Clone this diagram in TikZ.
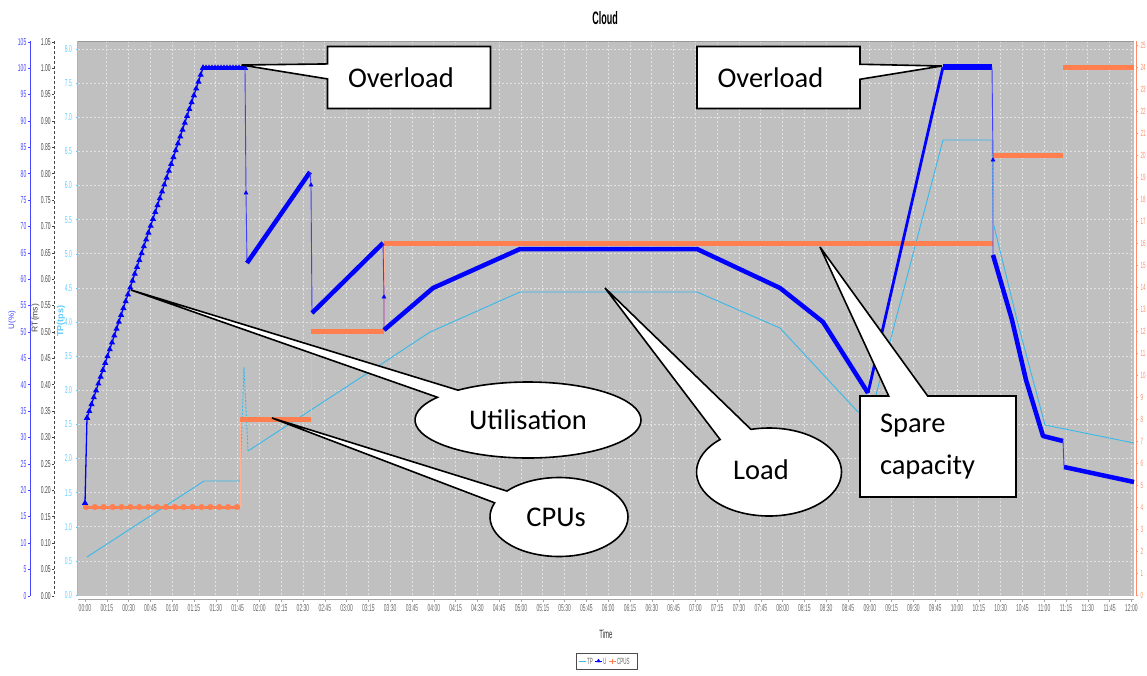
\documentclass[tikz,border=0pt]{standalone}
\usepackage{fontspec}
\setmainfont{Carlito}
\newfontfamily\tickf[FakeStretch=0.5]{Liberation Sans}
\newfontfamily\titlef[FakeStretch=0.5]{Liberation Sans}
\newfontfamily\axf{Liberation Sans}
\usetikzlibrary{shapes.callouts,shapes.geometric,plotmarks}
\definecolor{plotbg}{RGB}{192,192,192}
\definecolor{gridc}{RGB}{226,226,226}
\definecolor{ublue}{RGB}{0,0,255}
\definecolor{uaxis}{RGB}{70,70,255}
\definecolor{tpc}{RGB}{55,185,235}
\definecolor{tpaxis}{RGB}{95,205,255}
\definecolor{cpuc}{RGB}{255,127,80}
\definecolor{cpuaxis}{RGB}{255,140,105}
\definecolor{rtc}{RGB}{70,70,70}
\definecolor{timec}{RGB}{100,100,100}
\tikzset{
  gridline/.style={gridc, line width=0.7pt, dash pattern=on 2pt off 2pt},
  uthick/.style={ublue, line width=4.5pt, line join=round},
  uthin/.style={ublue!75, line width=0.9pt},
  umarks/.style={ublue, line width=1.3pt, mark=triangle*, mark size=2.3pt, mark options={ublue, solid}},
  tpline/.style={tpc, line width=0.9pt, line join=round},
  tpdash/.style={tpc, line width=0.9pt, dash pattern=on 2pt off 1.5pt},
  cputhick/.style={cpuc, line width=5pt},
  cputhin/.style={cpuc!60, line width=0.9pt},
  ulab/.style={font=\tickf\fontsize{10}{10}\selectfont, text=uaxis, anchor=east, inner sep=0pt},
  rtlab/.style={font=\tickf\fontsize{10}{10}\selectfont, text=rtc, anchor=east, inner sep=0pt},
  tplab/.style={font=\tickf\fontsize{10}{10}\selectfont, text=tpaxis, anchor=east, inner sep=0pt},
  cpulab/.style={font=\tickf\fontsize{9}{9}\selectfont, text=cpuaxis, anchor=west, inner sep=0pt},
  timelab/.style={font=\tickf\fontsize{10}{10}\selectfont, text=timec, inner sep=0pt},
  callrect/.style={rectangle callout, draw=black, fill=white, line width=1.6pt, inner ysep=0pt,
    font=\fontsize{28.5}{42}\selectfont, align=left},
  callell/.style={ellipse callout, draw=black, fill=white, line width=1.6pt, inner sep=0pt,
    font=\fontsize{28.5}{34}\selectfont},
}
\begin{document}
\begin{tikzpicture}[x=1pt,y=-1pt]
\useasboundingbox (0,0) rectangle (1147,675);
\fill[white] (0,0) rectangle (1147,675);
% title
\node[font=\titlef\bfseries\fontsize{18}{18}\selectfont] (title) at (605,18) {Cloud};
% plot area
\fill[plotbg] (78,41) rectangle (1134,596);
\foreach \i in {1,...,48} {\draw[gridline] ({85+21.8*\i},41) -- ({85+21.8*\i},596);}
\foreach \i in {1,...,16} {\draw[gridline] (78,{595-34.125*\i}) -- (1134,{595-34.125*\i});}
\draw[gray!80, line width=0.6pt] (78,41) -- (1134,41);
% left axes
\draw[uaxis, line width=0.8pt] (30,41) -- (30,596);
\draw[rtc, line width=0.7pt, dash pattern=on 3pt off 2pt] (54.3,41) -- (54.3,596);
\draw[tpaxis, line width=0.9pt] (77.5,41) -- (77.5,596);
\foreach \i in {0,...,21} {
  \pgfmathsetmacro\yy{595.7-26.38*\i}
  \pgfmathtruncatemacro\lab{5*\i}
  \node[ulab] (u\i) at (26.5,\yy) {\lab};
  \draw[uaxis] (28,\yy) -- (30,\yy);
}
\foreach \lab [count=\i from 0] in {0.00,0.05,0.10,0.15,0.20,0.25,0.30,0.35,0.40,0.45,0.50,0.55,0.60,0.65,0.70,0.75,0.80,0.85,0.90,0.95,1.00,1.05} {
  \pgfmathsetmacro\yy{595.7-26.38*\i}
  \node[rtlab] (rt\i) at (50.8,\yy) {\lab};
  \draw[rtc] (52.3,\yy) -- (54.3,\yy);
}
\foreach \lab [count=\i from 0] in {0.0,0.5,1.0,1.5,2.0,2.5,3.0,3.5,4.0,4.5,5.0,5.5,6.0,6.5,7.0,7.5,8.0} {
  \pgfmathsetmacro\yy{595-34.125*\i}
  \node[tplab] (tp\i) at (72,\yy) {\lab};
  \draw[tpaxis] (75.5,\yy) -- (77.5,\yy);
}
\node[rotate=90, font=\axf\fontsize{8}{8}\selectfont, text=uaxis] (ulabel) at (12,320) {U(\%)};
\node[rotate=90, font=\axf\fontsize{8.5}{8.5}\selectfont, text=rtc] (rtlabel) at (35.5,318) {RT(ms)};
\node[rotate=90, font=\axf\bfseries\fontsize{9}{9}\selectfont, text=tpaxis] (tplabel) at (61,321) {TP(tps)};
% right axis
\draw[cpuaxis, line width=0.9pt] (1136,41) -- (1136,596);
\foreach \i in {0,...,25} {
  \pgfmathsetmacro\yy{595-22*\i}
  \draw[cpuaxis] (1136,\yy) -- (1138,\yy);
  \node[cpulab] (c\i) at (1140.5,\yy) {\i};
}
% bottom axis
\draw[gray!70, line width=0.7pt] (78,599) -- (1134,599);
\foreach \lab [count=\i from 0] in {00:00,00:15,00:30,00:45,01:00,01:15,01:30,01:45,02:00,02:15,02:30,02:45,03:00,03:15,03:30,03:45,04:00,04:15,04:30,04:45,05:00,05:15,05:30,05:45,06:00,06:15,06:30,06:45,07:00,07:15,07:30,07:45,08:00,08:15,08:30,08:45,09:00,09:15,09:30,09:45,10:00,10:15,10:30,10:45,11:00,11:15,11:30,11:45,12:00} {
  \draw[gray!70] ({85+21.8*\i},599) -- ({85+21.8*\i},602);
  \node[timelab] (t\i) at ({85+21.8*\i},608) {\lab};
}
\node[font=\tickf\fontsize{12}{12}\selectfont, text=black!80] (timelabel) at (606,634) {Time};
% ---------- TP series
\draw[tpline] (87,557) -- (204,481) -- (240,481);
\draw[tpdash] (240,481) -- (244,367) -- (248,451);
\draw[tpline] (248,451) -- (383,363) -- (430,332) -- (520,292) -- (697,292) -- (780,328) -- (858,412) -- (872,410) -- (943,140) -- (992,140);
\draw[tpdash] (992,140) -- (993,222);
\draw[tpline] (993,222) -- (1017,320) -- (1045,425) -- (1134,443);
% ---------- CPU series
\draw[cpuc, line width=3pt] (85,507) -- (240,507);
\draw[cpuc] plot[mark=*, mark size=2.8pt, only marks, domain=86:237, samples=18] (\x,507);
\draw[cputhin] (240,507) -- (240,419);
\draw[cputhick] (240,419) -- (311,419);
\draw[cputhin] (311,419) -- (311,331);
\draw[cputhick] (311,331) -- (384,331);
\draw[cputhin] (384,331) -- (384,243);
\draw[cputhick] (384,243) -- (993,243);
\draw[cputhin] (993,243) -- (993,155);
\draw[cputhick] (993,155) -- (1063,155);
\draw[cputhin] (1063,155) -- (1063,67);
\draw[cputhick] (1063,67) -- (1134,67);
% ---------- U series
\draw[umarks] plot coordinates {(85,503) (87,418)};
\draw[umarks] plot[domain=0:1, samples=52] ({87+116*\x},{418-350*\x});
\draw[ublue, line width=4pt] (203,68) -- (245,68);
\draw[umarks] plot[domain=203:245, samples=15] (\x,68);
\draw[uthin] (245,68) -- (246,193) -- (247,263);
\draw[ublue] plot[mark=triangle*, mark size=2.3pt] coordinates {(246,193)};
\draw[uthick] (247,263) -- (310,172);
\draw[uthin] (310,172) -- (311,185) -- (312,313);
\draw[ublue] plot[mark=triangle*, mark size=2.3pt] coordinates {(311,185)};
\draw[uthick] (312,313) -- (383,243);
\draw[uthin] (383,243) -- (384,297) -- (384,330);
\draw[ublue] plot[mark=triangle*, mark size=2.3pt] coordinates {(384,297)};
\draw[uthick] (384,330) -- (433,288) -- (520,249) -- (697,249) -- (780,288) -- (823,322) -- (868,393);
\draw[ublue, line width=2.8pt] (868,393) -- (943,67);
\draw[ublue, line width=6pt] (943,67) -- (992,67);
\draw[uthin] (992,67) -- (993,160) -- (993,255);
\draw[ublue] plot[mark=triangle*, mark size=2.3pt] coordinates {(993,160)};
\draw[uthick] (993,255) -- (1012,320) -- (1026,380) -- (1043,436) -- (1063,441);
\draw[uthin] (1063,441) -- (1064,467);
\draw[uthick] (1064,467) -- (1134,482);
% ---------- legend
\draw[gray!60!black, line width=0.7pt] (576,653) rectangle (637,669);
\node[inner sep=0pt] (legbox) at (606.5,661) {};
\draw[tpc, line width=0.8pt] (579,661) -- (586,661);
\node[font=\tickf\fontsize{9}{9}\selectfont, text=timec, anchor=west, inner sep=0pt] (legtp) at (587,661) {TP};
\draw[ublue, line width=0.9pt] (595,661) -- (602,661);
\draw[ublue] plot[mark=triangle*, mark size=2pt] coordinates {(598.5,661)};
\node[font=\tickf\fontsize{9}{9}\selectfont, text=timec, anchor=west, inner sep=0pt] (legu) at (603,661) {U};
\draw[cpuc, line width=0.9pt] (609,661) -- (616,661);
\draw[cpuc] plot[mark=+, mark size=2.5pt, mark options={line width=1pt}] coordinates {(612.5,661)};
\node[font=\tickf\fontsize{9}{9}\selectfont, text=timec, anchor=west, inner sep=0pt] (legcpu) at (617,661) {CPUS};
% ---------- callouts
\node[callrect, minimum width=163pt, minimum height=62pt, text width=122pt, inner xsep=20.5pt,
  callout absolute pointer={(241.7,65)}, callout pointer width=15pt] (ov1) at (409,77.5) {Overload};
\node[callrect, minimum width=163pt, minimum height=62pt, text width=122pt, inner xsep=20.5pt,
  callout absolute pointer={(941.7,66)}, callout pointer width=15pt] (ov2) at (778.5,77.5) {Overload};
\node[callrect, minimum width=156pt, minimum height=101pt, text width=116pt, inner xsep=20pt,
  callout absolute pointer={(820,247)}, callout pointer width=39pt] (spare) at (938,446.5) {Spare\\capacity};
\node[callell, minimum width=226pt, minimum height=76pt,
  callout absolute pointer={(131,290)}, callout pointer arc=15] (util) at (528,420) {Utilisation};
\node[callell, minimum width=138pt, minimum height=79pt,
  callout absolute pointer={(272,418)}, callout pointer arc=20] (cpus) at (559,517) {CPUs\hspace*{6pt}};
\node[callell, minimum width=145pt, minimum height=88pt,
  callout absolute pointer={(605,288)}, callout pointer arc=28] (load) at (769,472) {\raisebox{4pt}{Load}\hspace*{16pt}};
\end{tikzpicture}
\end{document}
